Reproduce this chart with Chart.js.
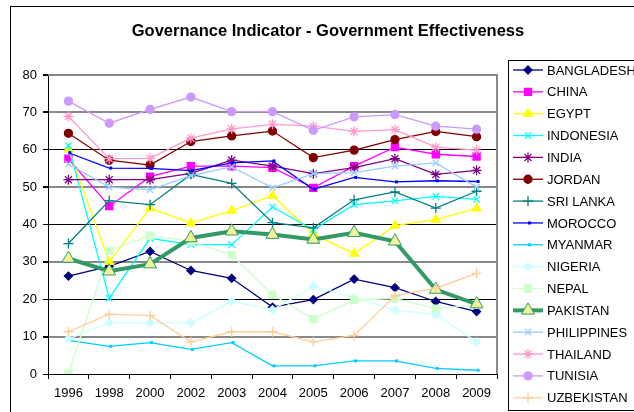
<!DOCTYPE html>
<html>
<head>
<meta charset="utf-8">
<script src="https://cdn.jsdelivr.net/npm/chart.js@4/dist/chart.umd.min.js"></script>
<style>
  html, body { margin: 0; padding: 0; background: #fff; }
  canvas { display: block; }
</style>
</head>
<body>
<canvas id="grafico" width="634" height="412"></canvas>
<script>
// anos (categorias do eixo x)
const years = ['1996', '1998', '2000', '2002', '2003', '2004', '2005', '2006', '2007', '2008', '2009'];

// valores, por país
const bangladesh  = [26.2, 28.8, 32.8, 27.7, 25.6, 17.9, 19.9, 25.4, 23.1, 19.4, 16.7];
const china       = [57.6, 44.9, 52.8, 55.6, 55.6, 55.2, 49.8, 55.6, 60.7, 58.8, 58.2];
const egypt       = [60.1, 30.0, 44.4, 40.4, 43.7, 47.7, 37.5, 32.2, 39.7, 41.3, 44.3];
const indonesia   = [61.1, 20.3, 36.3, 34.6, 34.6, 44.7, 38.6, 45.3, 46.3, 47.5, 46.7];
const india       = [52.0, 52.0, 52.0, 53.7, 57.2, 55.6, 53.6, 55.2, 57.6, 53.4, 54.5];
const jordan      = [64.4, 57.2, 55.9, 62.2, 63.7, 65.0, 57.9, 59.9, 62.7, 64.9, 63.5];
const sriLanka    = [34.9, 46.4, 45.3, 53.4, 51.0, 40.5, 39.1, 46.6, 48.7, 44.4, 48.9];
const morocco     = [59.2, 55.1, 55.0, 54.4, 56.5, 57.0, 49.4, 52.6, 51.4, 51.7, 51.5];
const myanmar     = [9.0, 7.4, 8.4, 6.6, 8.4, 2.2, 2.2, 3.5, 3.5, 1.5, 1.0];
const nigeria     = [9.4, 13.7, 13.7, 13.7, 19.5, 17.2, 23.5, 20.5, 17.1, 15.9, 8.6];
const nepal       = [0.2, 33.0, 37.0, 35.5, 31.8, 21.2, 14.7, 19.8, 20.2, 17.5, 18.5];
const pakistan    = [30.9, 27.5, 29.4, 36.4, 38.2, 37.3, 36.0, 37.8, 35.5, 22.6, 18.7];
const philippines = [56.2, 50.0, 49.3, 53.1, 55.4, 49.8, 53.6, 53.9, 55.6, 56.5, 50.0];
const thailand    = [68.9, 57.6, 57.7, 63.1, 65.6, 66.8, 66.3, 64.9, 65.4, 60.7, 59.9];
const tunisia     = [73.0, 67.1, 70.8, 74.1, 70.2, 70.2, 65.2, 68.8, 69.4, 66.3, 65.5];
const uzbekistan  = [11.3, 16.0, 15.6, 8.6, 11.3, 11.3, 8.6, 10.3, 20.9, 23.0, 26.9];

// ticks do eixo y
const yTicks = [0, 10, 20, 30, 40, 50, 60, 70, 80];

const FONT = "Arial, 'Liberation Sans', sans-serif";

// estilo de cada série (nome, dados, cor, marcador, raio)
const series = [
    ['BANGLADESH', bangladesh, '#000080', 'rectRot', 4],
    ['CHINA', china, '#FF00FF', 'rect', 5],
    ['EGYPT', egypt, '#FFFF00', 'triangle', 5],
    ['INDONESIA', indonesia, '#00FFFF', 'crossRot', 4.5],
    ['INDIA', india, '#800080', 'star', 5],
    ['JORDAN', jordan, '#800000', 'circle', 4],
    ['SRI LANKA', sriLanka, '#008080', 'cross', 5],
    ['MOROCCO', morocco, '#0000FF', 'dash', 3],
    ['MYANMAR', myanmar, '#00CCFF', 'dash', 3],
    ['NIGERIA', nigeria, '#CCFFFF', 'rectRot', 4],
    ['NEPAL', nepal, '#CCFFCC', 'rect', 5],
    ['PAKISTAN', pakistan, '#339966', 'triangle', 7.5],
    ['PHILIPPINES', philippines, '#99CCFF', 'crossRot', 4.5],
    ['THAILAND', thailand, '#FF99CC', 'star', 5],
    ['TUNISIA', tunisia, '#CC99FF', 'circle', 4],
    ['UZBEKISTAN', uzbekistan, '#FFCC99', 'cross', 5]
];

const datasets = series.map(([name, data, color, style, r], i) => {
    const isPak = name === 'PAKISTAN';
    const isDash = style === 'dash';
    return {
        label: name,
        data: data,
        borderColor: color,
        borderWidth: isPak ? 4 : 1.3,
        pointStyle: style,
        pointRadius: r,
        pointHoverRadius: r,
        pointBackgroundColor: isPak ? '#F2F29A' : color,
        pointBorderColor: color,
        pointBorderWidth: isPak ? 1 : (isDash ? 3 : 1.3),
        tension: 0,
        fill: false,
        order: series.length - i // séries posteriores ficam por cima
    };
});

// título, bordas e legenda desenhados à mão
const decor = {
    id: 'decor',
    afterDraw(chart) {
        const ctx = chart.ctx;
        const a = chart.chartArea;
        ctx.save();

        // borda externa do gráfico
        ctx.strokeStyle = '#000';
        ctx.lineWidth = 1;
        ctx.strokeRect(10.5, 6.5, 700, 500);

        // borda da área de plotagem (topo e direita)
        ctx.strokeStyle = '#888';
        ctx.lineWidth = 2;
        ctx.beginPath();
        ctx.moveTo(a.left, a.top);
        ctx.lineTo(a.right, a.top);
        ctx.lineTo(a.right, a.bottom);
        ctx.stroke();

        // título
        ctx.fillStyle = '#000';
        ctx.font = 'bold 16.5px ' + FONT;
        ctx.textAlign = 'center';
        ctx.textBaseline = 'middle';
        ctx.fillText('Governance Indicator - Government Effectiveness', 328, 31);

        // caixa da legenda
        ctx.fillStyle = '#fff';
        ctx.fillRect(508.5, 60.5, 200, 350);
        ctx.strokeStyle = '#000';
        ctx.lineWidth = 1;
        ctx.strokeRect(508.5, 60.5, 200, 350);

        // itens da legenda
        ctx.font = '13px ' + FONT;
        ctx.textAlign = 'left';
        chart.data.datasets.forEach((ds, i) => {
            const y = 70 + i * 21.85;
            ctx.strokeStyle = ds.borderColor;
            ctx.lineWidth = ds.borderWidth;
            ctx.beginPath();
            ctx.moveTo(513, y);
            ctx.lineTo(543, y);
            ctx.stroke();

            ctx.fillStyle = ds.pointBackgroundColor;
            ctx.strokeStyle = ds.pointBorderColor;
            ctx.lineWidth = ds.pointBorderWidth;
            Chart.helpers.drawPoint(ctx, {
                pointStyle: ds.pointStyle,
                radius: ds.pointRadius,
                rotation: 0,
                borderWidth: ds.pointBorderWidth
            }, 528, y);

            ctx.fillStyle = '#000';
            ctx.fillText(ds.label, 547, y + 1);
        });
        ctx.restore();
    }
};

new Chart(document.getElementById('grafico'), {
    type: 'line',
    data: {
        labels: years,
        datasets: datasets
    },
    plugins: [decor],
    options: {
        responsive: false,
        animation: false,
        events: [],
        layout: {
            padding: { left: 0, top: 75, right: 137, bottom: 0 }
        },
        plugins: {
            legend: { display: false },
            title: { display: false },
            tooltip: { enabled: false }
        },
        scales: {
            x: {
                offset: true,
                afterFit: s => { s.height = 38; },
                grid: {
                    offset: true,
                    drawOnChartArea: false,
                    tickLength: 5,
                    tickColor: '#000'
                },
                border: { color: '#000', width: 1 },
                ticks: {
                    color: '#000',
                    font: { family: FONT, size: 13 },
                    padding: 7,
                    maxRotation: 0,
                    autoSkip: false
                }
            },
            y: {
                min: 0,
                max: 80,
                afterFit: s => { s.width = 48; },
                afterBuildTicks: s => { s.ticks = yTicks.map(v => ({ value: v })); },
                grid: {
                    tickLength: 5,
                    tickColor: '#000',
                    color: c => (c.tick && c.tick.value % 20 === 0 && c.tick.value !== 80) ? '#000' : '#888',
                    lineWidth: c => (c.tick && c.tick.value % 20 === 0 && c.tick.value !== 80) ? 1 : 2
                },
                border: { color: '#000', width: 1 },
                ticks: {
                    color: '#000',
                    font: { family: FONT, size: 13 },
                    padding: 6
                }
            }
        }
    }
});
</script>
</body>
</html>
